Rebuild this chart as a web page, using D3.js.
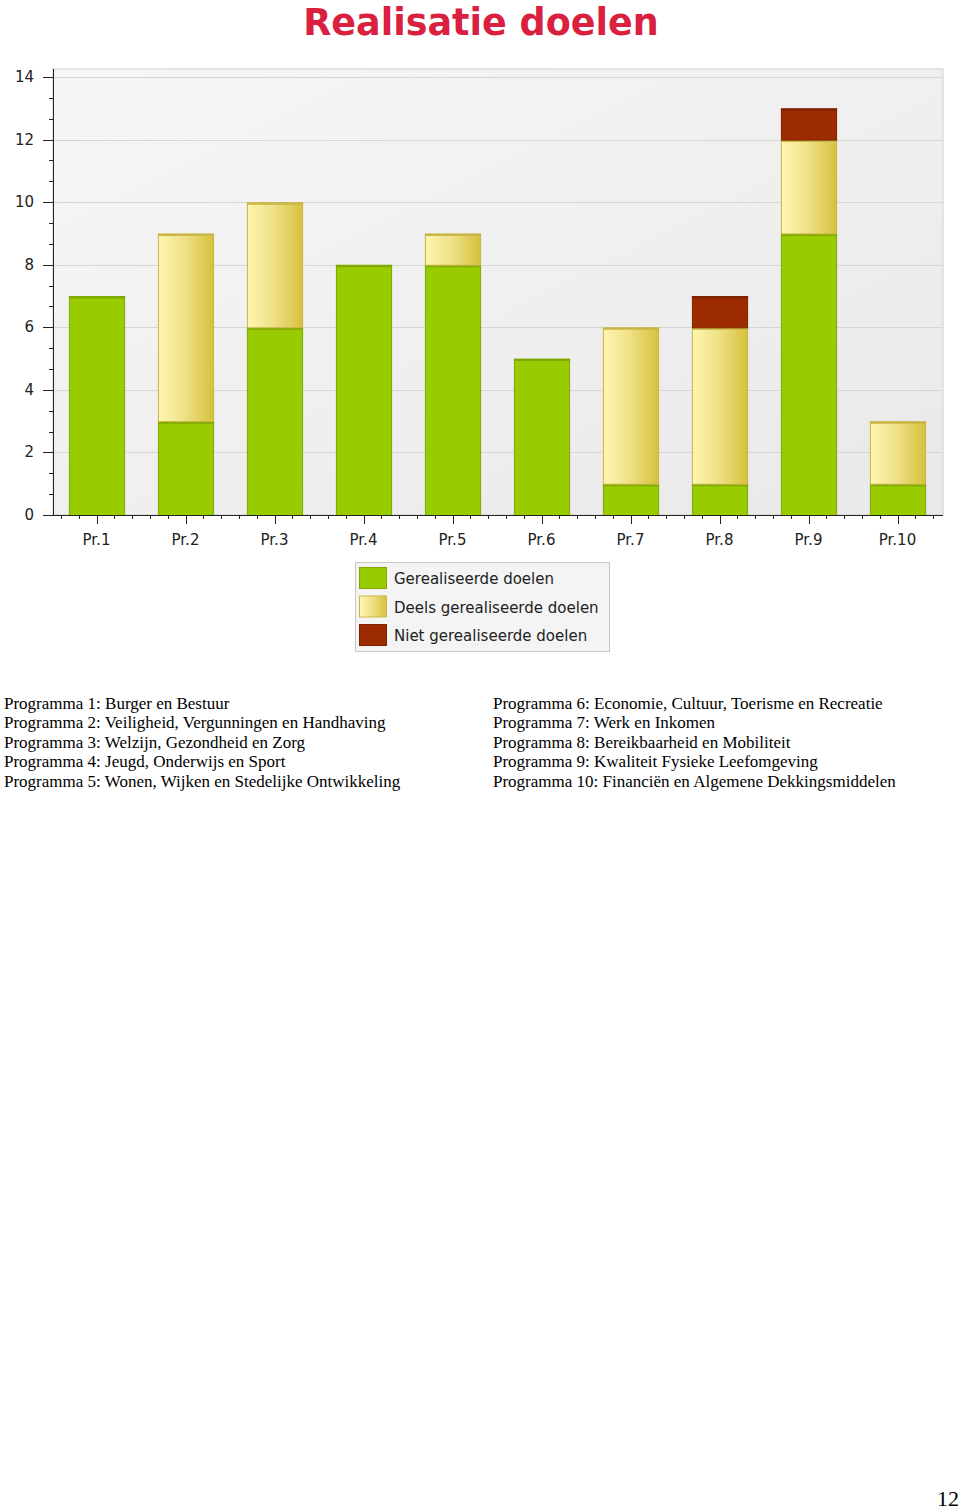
<!DOCTYPE html>
<html>
<head>
<meta charset="utf-8">
<script src="https://cdn.jsdelivr.net/npm/d3@7"></script>
<style>
  body { margin: 0; background: #fff; }
</style>
</head>
<body>
<div id="chart"></div>
<script>
const categories = ["Pr.1", "Pr.2", "Pr.3", "Pr.4", "Pr.5", "Pr.6", "Pr.7", "Pr.8", "Pr.9", "Pr.10"];
const gerealiseerd = [7, 3, 6, 8, 8, 5, 1, 1, 9, 1];
const deels = [0, 6, 4, 0, 1, 0, 5, 5, 3, 2];
const niet = [0, 0, 0, 0, 0, 0, 0, 1, 1, 0];
const yTicks = [0, 2, 4, 6, 8, 10, 12, 14];
const seriesNames = ["Gerealiseerde doelen", "Deels gerealiseerde doelen", "Niet gerealiseerde doelen"];
const programmaLeft = [
  "Programma 1: Burger en Bestuur",
  "Programma 2: Veiligheid, Vergunningen en Handhaving",
  "Programma 3: Welzijn, Gezondheid en Zorg",
  "Programma 4: Jeugd, Onderwijs en Sport",
  "Programma 5: Wonen, Wijken en Stedelijke Ontwikkeling"
];
const programmaRight = [
  "Programma 6: Economie, Cultuur, Toerisme en Recreatie",
  "Programma 7: Werk en Inkomen",
  "Programma 8: Bereikbaarheid en Mobiliteit",
  "Programma 9: Kwaliteit Fysieke Leefomgeving",
  "Programma 10: Financiën en Algemene Dekkingsmiddelen"
];

const W = 960, H = 1511;
const svg = d3.select("#chart").append("svg")
  .attr("width", W).attr("height", H);

const defs = svg.append("defs");
const bg = defs.append("linearGradient").attr("id", "bg").attr("x1", 0).attr("y1", 0).attr("x2", 1).attr("y2", 1);
bg.append("stop").attr("offset", "0%").attr("stop-color", "#f6f6f6");
bg.append("stop").attr("offset", "100%").attr("stop-color", "#e9e9e9");
const yel = defs.append("linearGradient").attr("id", "yel").attr("x1", 0).attr("x2", 1).attr("y1", 0).attr("y2", 0);
yel.append("stop").attr("offset", "0%").attr("stop-color", "#fdf6b0");
yel.append("stop").attr("offset", "45%").attr("stop-color", "#f0e28a");
yel.append("stop").attr("offset", "100%").attr("stop-color", "#d6c13c");

const colors = ["#99cc00", "url(#yel)", "#9c2b00"];
const strokes = ["#7fa800", "#c9b646", "#7e2200"];

// title
svg.append("text")
  .attr("x", 481).attr("y", 35)
  .attr("text-anchor", "middle")
  .style("font-family", "'DejaVu Sans', Verdana, sans-serif")
  .style("font-weight", "bold")
  .style("font-size", "36.5px")
  .style("fill", "#d9203f")
  .text("Realisatie doelen");

const pLeft = 53, pRight = 943, pTop = 69, pBottom = 515;
const x = d3.scaleBand().domain(categories).range([pLeft, pRight]).paddingInner(0.38).paddingOuter(0.19);
const y = d3.scaleLinear().domain([0, 14]).range([pBottom, 77]);

// plot background
svg.append("rect")
  .attr("x", pLeft).attr("y", pTop).attr("width", pRight - pLeft).attr("height", pBottom - pTop)
  .attr("fill", "url(#bg)").attr("stroke", "#cfcfcf");

// gridlines
svg.append("g").selectAll("line").data(yTicks.filter(d => d > 0)).enter().append("line")
  .attr("x1", pLeft).attr("x2", pRight)
  .attr("y1", d => Math.round(y(d)) + 0.5).attr("y2", d => Math.round(y(d)) + 0.5)
  .attr("stroke", "#d6d6d6");

// stacked bars
const rows = categories.map((c, i) => ({ cat: c, v0: gerealiseerd[i], v1: deels[i], v2: niet[i] }));
const stack = d3.stack().keys(["v0", "v1", "v2"])(rows);

stack.forEach((layer, li) => {
  const segs = layer.filter(d => d[1] > d[0]);
  svg.append("g").selectAll("rect").data(segs).enter().append("rect")
    .attr("x", d => x(d.data.cat) - 0.5)
    .attr("y", d => y(d[1]) + 0.5)
    .attr("width", x.bandwidth())
    .attr("height", d => y(d[0]) - y(d[1]))
    .attr("fill", colors[li])
    .attr("stroke", strokes[li])
    .attr("stroke-width", 1);
  // darker top edge
  svg.append("g").selectAll("line").data(segs).enter().append("line")
    .attr("x1", d => x(d.data.cat) - 1).attr("x2", d => x(d.data.cat) + x.bandwidth())
    .attr("y1", d => y(d[1]) + 1.5).attr("y2", d => y(d[1]) + 1.5)
    .attr("stroke", strokes[li]).attr("stroke-width", 2);
});

// y axis
const yAxis = svg.append("g").attr("transform", `translate(${pLeft},0)`);
yAxis.append("line").attr("x1", 0.5).attr("x2", 0.5).attr("y1", pTop).attr("y2", pBottom).attr("stroke", "#222");
const minorY = d3.range(0, 14.001, 2 / 3);
yAxis.selectAll(".mn").data(minorY).enter().append("line")
  .attr("x1", -4).attr("x2", 0)
  .attr("y1", d => Math.round(y(d)) + 0.5).attr("y2", d => Math.round(y(d)) + 0.5)
  .attr("stroke", "#222");
yAxis.selectAll(".mj").data(yTicks).enter().append("line")
  .attr("x1", -10).attr("x2", 0)
  .attr("y1", d => Math.round(y(d)) + 0.5).attr("y2", d => Math.round(y(d)) + 0.5)
  .attr("stroke", "#222");
yAxis.selectAll("text").data(yTicks).enter().append("text")
  .attr("x", -19).attr("y", d => y(d) + 5)
  .attr("text-anchor", "end")
  .style("font-family", "'DejaVu Sans', Tahoma, sans-serif")
  .style("font-size", "15px")
  .style("fill", "#222")
  .text(d => d);

// x axis
const xAxis = svg.append("g");
xAxis.append("line").attr("x1", pLeft).attr("x2", pRight).attr("y1", pBottom + 0.5).attr("y2", pBottom + 0.5).attr("stroke", "#222");
const step = x.step() / 5;
const minorX = [];
categories.forEach(c => {
  const cx = x(c) + x.bandwidth() / 2;
  for (let k = -2; k <= 2; k++) if (k !== 0) minorX.push(cx + k * step);
});
xAxis.selectAll(".mn").data(minorX).enter().append("line")
  .attr("x1", d => Math.round(d) - 0.5).attr("x2", d => Math.round(d) - 0.5)
  .attr("y1", pBottom).attr("y2", pBottom + 4)
  .attr("stroke", "#222");
xAxis.selectAll(".mj").data(categories).enter().append("line")
  .attr("x1", d => Math.round(x(d) + x.bandwidth() / 2) - 0.5)
  .attr("x2", d => Math.round(x(d) + x.bandwidth() / 2) - 0.5)
  .attr("y1", pBottom).attr("y2", pBottom + 9)
  .attr("stroke", "#222");
xAxis.selectAll("text").data(categories).enter().append("text")
  .attr("x", d => x(d) + x.bandwidth() / 2 - 1)
  .attr("y", 545)
  .attr("text-anchor", "middle")
  .style("font-family", "'DejaVu Sans', Tahoma, sans-serif")
  .style("font-size", "15px")
  .style("fill", "#222")
  .text(d => d);

// legend
const lg = svg.append("g").attr("transform", "translate(355,562)");
lg.append("rect").attr("x", 0.5).attr("y", 0.5).attr("width", 254).attr("height", 89)
  .attr("fill", "#f4f4f4").attr("stroke", "#c8c8c8");
const legendFills = ["#99cc00", "url(#yel)", "#9c2b00"];
seriesNames.forEach((name, i) => {
  lg.append("rect").attr("x", 4.5).attr("y", 5.5 + i * 28.5).attr("width", 27).attr("height", 21)
    .attr("fill", legendFills[i]).attr("stroke", strokes[i]);
  lg.append("text").attr("x", 39).attr("y", 22 + i * 28.5)
    .style("font-family", "'DejaVu Sans', Tahoma, sans-serif")
    .style("font-size", "15px")
    .style("fill", "#222")
    .text(name);
});

// programma list
const listFont = "'Liberation Serif', 'Times New Roman', serif";
svg.append("g").selectAll("text").data(programmaLeft).enter().append("text")
  .attr("x", 4).attr("y", (d, i) => 709 + i * 19.4)
  .style("font-family", listFont).style("font-size", "17px").style("fill", "#000")
  .text(d => d);
svg.append("g").selectAll("text").data(programmaRight).enter().append("text")
  .attr("x", 493).attr("y", (d, i) => 709 + i * 19.4)
  .style("font-family", listFont).style("font-size", "17px").style("fill", "#000")
  .text(d => d);

// page number
svg.append("text").attr("x", 959).attr("y", 1506).attr("text-anchor", "end")
  .style("font-family", listFont).style("font-size", "22px").style("fill", "#000")
  .text("12");
</script>
</body>
</html>
